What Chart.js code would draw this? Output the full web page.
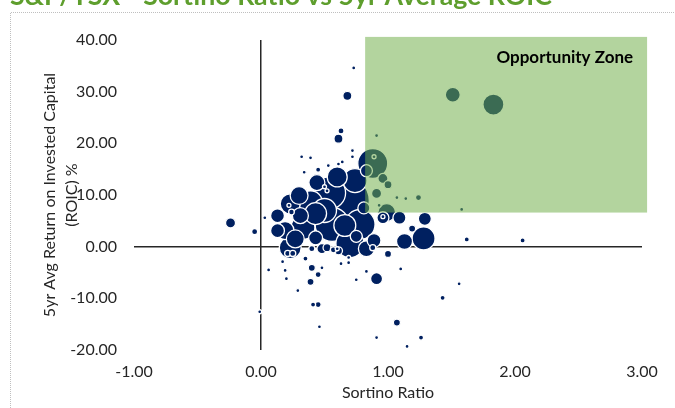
<!DOCTYPE html>
<html>
<head>
<meta charset="utf-8">
<script src="https://cdn.jsdelivr.net/npm/chart.js@4.4.1/dist/chart.umd.min.js"></script>
<style>
  html, body { margin:0; padding:0; background:#fff; }
  #wrap { width:675px; height:408px; }
</style>
</head>
<body>
<div id="wrap"><canvas id="chart" width="675" height="408"></canvas></div>
<script>
// ======================================================
// S&P/TSX - Sortino Ratio vs 5yr Average ROIC (bubble)
// ======================================================
const TITLE = 'S&P/TSX - Sortino Ratio vs 5yr Average ROIC';
const X_TITLE = 'Sortino Ratio';
const Y_TITLE = ['5yr Avg Return on Invested Capital', '(ROIC) %'];
const ZONE_LABEL = 'Opportunity Zone';

const xTicks = [-1, 0, 1, 2, 3];
const yTicks = [-20, -10, 0, 10, 20, 30, 40];
const zoneX = [0.82, 3.04];
const zoneY = [6.6, 40.6];

// one entry per company: sortino ratio, 5yr avg ROIC (%), market cap (bubble size)
const sortino = [
  -0.24, -0.05, 0.03, 0.68, 0.73, 0.63, 0.61, 0.32, 0.39, 0.72, 0.72, 0.61, 0.64, 0.45, 0.91, 1.51, 1.83,
  0.88, 0.96, 0.89, 0.83, 0.91, 1.07, 1.24, 1.14, 1.58, 0.99, 1.00,
  1.09, 1.29, 0.96, 0.96, 1.19, 1.13, 1.28, 1.62, 2.06, 1.00,
  0.06, 0.17, 0.19, 0.20, 0.40, 0.45, 0.39, 0.48, 0.29, 0.41, 0.45, 0.46, -0.01, 0.63, 0.69, 0.69,
  0.75, 0.83, 0.91, 1.10, 1.07, 0.91, 1.15, 1.26, 1.43, 1.56, 0.35, 0.52,
  0.66, 0.54, 0.78, 0.56, 0.39, 0.23, 0.19, 0.33, 0.23, 0.43, 0.70, 0.83, 0.13, 0.74, 0.44, 0.30,
  0.31, 0.48, 0.61, 0.89, 0.81, 0.43, 0.66, 0.75, 0.13, 0.50, 0.27, 0.60,
  0.52, 0.50, 0.22, 0.21, 0.25, 0.40, 0.57, 0.88, 0.60, 0.24, 0.93, 0.34, 0.53
];
const roic = [
  4.6, 2.9, 5.6, 29.2, 34.6, 22.4, 20.9, 17.4, 17.2, 18.6, 17.4, 16.0, 16.4, 14.9, 21.5, 29.4, 27.5,
  16.1, 13.2, 17.4, 14.7, 10.3, 9.5, 9.5, 9.3, 7.2, 6.6, 12.0,
  5.6, 5.4, 5.6, 5.8, 3.5, 1.0, 1.6, 1.4, 1.2, -1.4,
  -4.5, -2.9, -4.6, -6.2, -4.1, -5.4, -6.8, -4.1, -8.5, -11.2, -11.2, -15.5, -12.6, -3.3, -2.1, -3.1,
  -6.4, -4.8, -6.2, -4.3, -14.7, -17.6, -19.3, -17.6, -9.9, -7.2, -2.3, -0.2,
  8.9, 10.4, 4.3, 4.3, 8.5, 8.3, 3.1, 3.7, -0.2, 1.7, 0.6, -0.4, 3.1, 12.8, 12.4, 9.9,
  6.0, -0.4, -0.8, 1.2, 7.5, 6.4, 4.1, 2.0, 6.0, 7.0, 1.5, 13.5,
  10.8, 11.6, 8.0, -1.3, -1.3, -0.4, -0.6, -0.2, -0.4, 6.7, 8.0, 14.4, 15.7
];
const mktCap = [
  6.3, 2.3, 0.6, 5.1, 1.0, 2.3, 5.1, 1.0, 1.0, 0.6, 0.4, 0.4, 0.4, 1.6, 0.3, 14, 27.6,
  56, 6.3, 1.0, 9, 6.3, 1.0, 2.3, 0.3, 0.3, 20, 4,
  10.6, 10.6, 9, 0.6, 3.1, 16, 33, 1.6, 1.6, 3.1,
  1.0, 1.0, 0.3, 0.3, 3.1, 2.3, 3.1, 0.6, 0.6, 1.6, 2.3, 1.0, 0.6, 0.6, 0.6, 0.6,
  0.6, 0.6, 9, 0.6, 3.1, 0.6, 1.0, 1.6, 1.6, 0.6, 1.6, 4,
  150, 64, 56, 72, 36, 25, 20, 36, 30, 12, 49, 16, 12, 36, 16, 20,
  16, 6.3, 4, 12, 9, 30, 30, 9, 12, 36, 20, 25,
  1.0, 0.6, 0.6, 2.3, 2.3, 2.3, 2.3, 2.3, 0.6, 2, 1.0, 0.5, 0.6
];

const FONT = 'Lato, "Open Sans", sans-serif';
Chart.defaults.font.family = FONT;
Chart.defaults.color = '#262626';

// bigger bubbles first so the small ones stay visible on top
const points = sortino.map((x, i) => ({ x, y: roic[i], r: Math.max(2, 2 * Math.sqrt(mktCap[i])), cap: mktCap[i] }))
  .sort((a, b) => b.cap - a.cap);

const frame = {
  id: 'frame',
  beforeDraw(chart) {
    const c = chart.ctx;
    c.save();
    c.fillStyle = '#fff';
    c.fillRect(0, 0, chart.width, chart.height);
    c.strokeStyle = '#bfbfbf';
    c.lineWidth = 1;
    c.setLineDash([1, 1]);
    c.beginPath();
    c.moveTo(10.5, chart.height); c.lineTo(10.5, 12.5); c.lineTo(chart.width, 12.5);
    c.stroke();
    c.setLineDash([]);
    // chart title, cut off at the top of the picture
    c.font = 'bold 24px ' + FONT;
    const w = c.measureText(TITLE).width;
    c.font = 'bold ' + (24 * 542 / w).toFixed(2) + 'px ' + FONT;
    c.fillStyle = '#5e9e2d';
    c.textBaseline = 'alphabetic';
    c.fillText(TITLE, 10, 5);
    c.restore();
  }
};

const zone = {
  id: 'zone',
  afterDatasetsDraw(chart) {
    const { ctx, scales: { x, y } } = chart;
    const l = x.getPixelForValue(zoneX[0]), r = x.getPixelForValue(zoneX[1]);
    const t = y.getPixelForValue(zoneY[1]), b = y.getPixelForValue(zoneY[0]);
    ctx.save();
    ctx.fillStyle = 'rgba(112,173,71,0.53)';
    ctx.fillRect(l, t, r - l, b - t);
    ctx.font = 'bold 17px ' + FONT;
    ctx.fillStyle = '#000';
    ctx.textAlign = 'right';
    ctx.textBaseline = 'middle';
    ctx.fillText(ZONE_LABEL, r - 14, t + 21);
    ctx.restore();
  }
};

const zeroLine = c => (c.tick && c.tick.value === 0) ? '#262626' : 'rgba(0,0,0,0)';

new Chart(document.getElementById('chart'), {
  type: 'bubble',
  data: {
    datasets: [{
      data: points,
      backgroundColor: '#002060',
      borderColor: '#ffffff',
      borderWidth: 1.3
    }]
  },
  options: {
    responsive: false,
    animation: false,
    layout: { padding: { left: 39, top: 40, right: 33, bottom: 6 } },
    plugins: { legend: { display: false }, tooltip: { enabled: false } },
    scales: {
      x: {
        type: 'linear',
        min: xTicks[0], max: xTicks[xTicks.length - 1],
        afterFit: s => { s.height = 52; },
        ticks: { stepSize: 1, padding: 12, font: { size: 16 }, callback: v => v.toFixed(2) },
        grid: { color: zeroLine, lineWidth: 1.5, drawTicks: false },
        border: { display: false },
        title: { display: true, text: X_TITLE, font: { size: 16, lineHeight: 1.2 }, padding: { top: 0, bottom: 0 } }
      },
      y: {
        type: 'linear',
        min: yTicks[0], max: yTicks[yTicks.length - 1],
        afterFit: s => { s.width = 95; },
        ticks: { stepSize: 10, padding: 17, font: { size: 16 }, callback: v => v.toFixed(2) },
        grid: { color: zeroLine, lineWidth: 1.5, drawTicks: false },
        border: { display: false },
        title: { display: true, text: Y_TITLE, font: { size: 16, lineHeight: 1.35 }, padding: { top: 0, bottom: 0 } }
      }
    }
  },
  plugins: [frame, zone]
});
</script>
</body>
</html>
